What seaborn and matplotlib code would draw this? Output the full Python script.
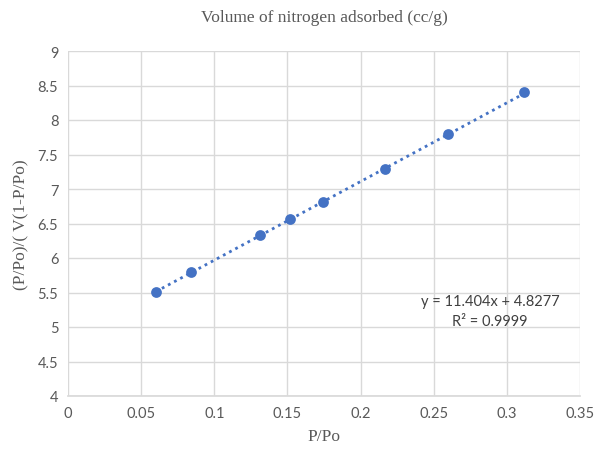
import matplotlib
matplotlib.use("Agg")
import matplotlib.pyplot as plt
import seaborn as sns
import numpy as np
import pandas as pd

x_vals = [0.060, 0.084, 0.131, 0.152, 0.174, 0.217, 0.260, 0.312]
y_vals = [5.51, 5.79, 6.33, 6.57, 6.81, 7.29, 7.79, 8.40]
slope, intercept = 11.404, 4.8277
x_ticks = [0, 0.05, 0.1, 0.15, 0.2, 0.25, 0.3, 0.35]
x_tick_labels = ["0", "0.05", "0.1", "0.15", "0.2", "0.25", "0.3", "0.35"]
y_ticks = [4, 4.5, 5, 5.5, 6, 6.5, 7, 7.5, 8, 8.5, 9]
y_tick_labels = ["4", "4.5", "5", "5.5", "6", "6.5", "7", "7.5", "8", "8.5", "9"]

sns.set_theme(style="whitegrid")
plt.rcParams['font.family'] = ['Lato', 'DejaVu Sans']

df = pd.DataFrame({"x": x_vals, "y": y_vals})
fig = plt.figure(figsize=(5.94, 4.52), dpi=100)
ax = fig.add_axes([68/594, 1 - 397/452, (580-68)/594, (397-52)/452])

color = "#4472C4"
xl = np.array([min(x_vals), max(x_vals)])
ax.plot(xl, slope * xl + intercept, linestyle=(0, (1, 1.5)), color=color, lw=2, zorder=2)
sns.scatterplot(data=df, x="x", y="y", ax=ax, color=color, s=60, edgecolor=color, linewidth=0, zorder=3)

ax.set_xlim(0, 0.35)
ax.set_ylim(4, 9)
ax.set_xticks(x_ticks)
ax.set_xticklabels(x_tick_labels)
ax.set_yticks(y_ticks)
ax.set_yticklabels(y_tick_labels)
ax.grid(True, color="#d9d9d9", lw=1)
for s in ["top", "right"]:
    ax.spines[s].set_visible(False)
ax.spines["left"].set_visible(False)
ax.spines["bottom"].set_color("#d9d9d9")
ax.tick_params(axis="both", colors="#595959", labelsize=10.5, length=0, pad=7)

serif = ['Liberation Serif', 'DejaVu Serif']
ax.set_xlabel("P/Po", family=serif, fontsize=12.5, color="#595959", labelpad=6)
ax.set_ylabel("(P/Po)/( V(1-P/Po)", family=serif, fontsize=12.5, color="#595959", labelpad=6)
fig.text((68+580)/2/594, 1 - 18/452, "Volume of nitrogen adsorbed (cc/g)", family=serif,
         fontsize=12.5, color="#595959", ha="center", va="center")

ax.text(0.2885, 5.38, "y = 11.404x + 4.8277", ha="center", va="center", fontsize=10.5, color="#404040")
ax.text(0.2885, 5.09, "R² = 0.9999", ha="center", va="center", fontsize=10.5, color="#404040")

fig.savefig("out.png", dpi=100)
